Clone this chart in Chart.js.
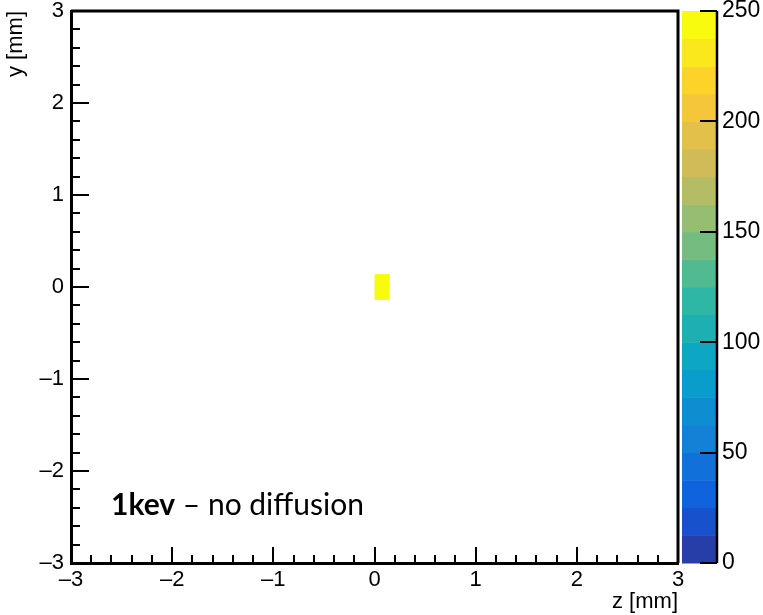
<!DOCTYPE html>
<html>
<head>
<meta charset="utf-8">
<script src="https://cdn.jsdelivr.net/npm/chart.js@4.4.1/dist/chart.umd.min.js"></script>
<style>
  html, body { margin: 0; padding: 0; background: #ffffff; }
  #wrap { width: 763px; height: 615px; position: relative; }
</style>
</head>
<body>
<div id="wrap"><canvas id="hist"></canvas></div>
<script>
// histogram bins with content (z = horizontal, y = vertical)
const binZLow = [0.0];
const binZHigh = [0.15];
const binYLow = [-0.14];
const binYHigh = [0.14];
const binCounts = [246];

// axis ranges and colour scale
const zRange = [-3, 3];
const yRange = [-3, 3];
const countRange = [0, 250];
const nContours = 20;

// kBird palette stops (ROOT)
const birdStops = [0, 0.125, 0.25, 0.375, 0.5, 0.625, 0.75, 0.875, 1];
const birdR = [0.2082, 0.0592, 0.0780, 0.0232, 0.1802, 0.5301, 0.8186, 0.9956, 0.9764];
const birdG = [0.1664, 0.3599, 0.5041, 0.6419, 0.7178, 0.7492, 0.7328, 0.7862, 0.9832];
const birdB = [0.5293, 0.8684, 0.8385, 0.7914, 0.6425, 0.4662, 0.3499, 0.1968, 0.0539];

function birdColor(t) {
  let k = 0;
  while (k < birdStops.length - 2 && t > birdStops[k + 1]) k++;
  const f = (t - birdStops[k]) / (birdStops[k + 1] - birdStops[k]);
  const c = (arr) => Math.round(255 * (arr[k] + (arr[k + 1] - arr[k]) * f));
  return `rgb(${c(birdR)},${c(birdG)},${c(birdB)})`;
}

// colour for contour band i, same way ROOT picks it out of 255 colours
function bandColor(i) {
  const idx = Math.floor((i + 0.99) * 255 / nContours);
  return birdColor(Math.min(idx, 254) / 254);
}

function valueBand(v) {
  const step = (countRange[1] - countRange[0]) / nContours;
  return Math.max(0, Math.min(nContours - 1, Math.floor((v - countRange[0]) / step)));
}

const dash = (v) => (v < 0 ? '\u2013' + Math.abs(v) : '' + v);
const axisFont = { family: 'Liberation Sans, Arial, sans-serif', size: 22 };
const paletteFont = { family: 'Liberation Sans, Arial, sans-serif', size: 23 };

//draws the filled bins, the inner tick marks, the frame and the palette
const rootStyle = {
  id: 'rootStyle',
  afterDatasetsDraw(chart) {
    const ctx = chart.ctx;
    const x = chart.scales.x, y = chart.scales.y;
    ctx.save();
    for (let i = 0; i < binCounts.length; i++) {
      const x0 = x.getPixelForValue(binZLow[i]);
      const x1 = x.getPixelForValue(binZHigh[i]);
      const y0 = y.getPixelForValue(binYHigh[i]);
      const y1 = y.getPixelForValue(binYLow[i]);
      ctx.fillStyle = bandColor(valueBand(binCounts[i]));
      ctx.fillRect(x0, y0, x1 - x0, y1 - y0);
    }
    ctx.restore();
  },
  afterDraw(chart) {
    const ctx = chart.ctx;
    const x = chart.scales.x, y = chart.scales.y, c = chart.scales.c;
    const area = chart.chartArea;
    ctx.save();
    ctx.strokeStyle = '#000';
    ctx.lineWidth = 2;
    ctx.beginPath();
    x.ticks.forEach((t) => {
      const px = Math.round(x.getPixelForValue(t.value));
      const major = Math.abs(t.value - Math.round(t.value)) < 1e-6;
      const len = major ? 16 : 8;
      ctx.moveTo(px, area.bottom);
      ctx.lineTo(px, area.bottom - len);
    });
    y.ticks.forEach((t) => {
      const py = Math.round(y.getPixelForValue(t.value));
      const major = Math.abs(t.value - Math.round(t.value)) < 1e-6;
      const len = major ? 18 : 9;
      ctx.moveTo(area.left, py);
      ctx.lineTo(area.left + len, py);
    });
    ctx.stroke();

    // frame top and right
    ctx.lineWidth = 3;
    ctx.beginPath();
    ctx.moveTo(area.left, area.top);
    ctx.lineTo(area.right, area.top);
    ctx.lineTo(area.right, area.bottom);
    ctx.stroke();

    // palette
    const pL = area.right + 4, pR = area.right + 39;
    const step = (countRange[1] - countRange[0]) / nContours;
    for (let i = 0; i < nContours; i++) {
      const yTop = c.getPixelForValue(countRange[0] + (i + 1) * step);
      const yBot = c.getPixelForValue(countRange[0] + i * step);
      ctx.fillStyle = bandColor(i);
      ctx.fillRect(pL, yTop, pR - pL, yBot - yTop + 0.5);
    }
    ctx.lineWidth = 2.5;
    ctx.beginPath();
    ctx.moveTo(pR, c.getPixelForValue(countRange[1]));
    ctx.lineTo(pR, c.getPixelForValue(countRange[0]));
    ctx.stroke();
    ctx.lineWidth = 2;
    ctx.beginPath();
    c.ticks.forEach((t) => {
      const py = Math.round(c.getPixelForValue(t.value));
      ctx.moveTo(pR, py);
      ctx.lineTo(pR - 17, py);
    });
    ctx.stroke();

    // label
    ctx.fillStyle = '#000';
    ctx.textBaseline = 'alphabetic';
    ctx.textAlign = 'left';
    ctx.font = 'bold 30px Lato, sans-serif';
    const lx = 111, ly = 515;
    ctx.fillText('1kev', lx, ly);
    const w = ctx.measureText('1kev').width;
    ctx.font = '30px Lato, sans-serif';
    ctx.fillText(' \u2013 no diffusion', lx + w, ly);
    ctx.restore();
  }
};

const noPad = (scale) => {
  scale.paddingTop = 0; scale.paddingBottom = 0;
  scale.paddingLeft = 0; scale.paddingRight = 0;
};

new Chart(document.getElementById('hist'), {
  type: 'scatter',
  plugins: [rootStyle],
  data: {
    datasets: [{
      data: binCounts.map((v, i) => ({ x: (binZLow[i] + binZHigh[i]) / 2, y: (binYLow[i] + binYHigh[i]) / 2 })),
      pointRadius: 0,
      yAxisID: 'y'
    }]
  },
  options: {
    responsive: true,
    maintainAspectRatio: false,
    animation: false,
    layout: { padding: { top: 11, left: 0, right: 0, bottom: 0 } },
    plugins: { legend: { display: false }, tooltip: { enabled: false } },
    scales: {
      x: {
        type: 'linear', min: zRange[0], max: zRange[1],
        grid: { display: false, drawTicks: false },
        border: { display: true, color: '#000', width: 3 },
        ticks: {
          stepSize: 0.2, autoSkip: false, maxRotation: 0, color: '#000', font: axisFont, padding: 4,
          callback: (v) => (Math.abs(v - Math.round(v)) < 1e-6 ? dash(Math.round(v)) : '')
        },
        title: { display: true, text: 'z [mm]', align: 'end', color: '#000', font: axisFont, padding: { top: 0, bottom: 0 } },
        afterFit: (s) => { s.height = 52; noPad(s); }
      },
      y: {
        type: 'linear', min: yRange[0], max: yRange[1],
        grid: { display: false, drawTicks: false },
        border: { display: true, color: '#000', width: 3 },
        ticks: {
          stepSize: 0.2, autoSkip: false, color: '#000', font: axisFont, padding: 7,
          callback: (v) => (Math.abs(v - Math.round(v)) < 1e-6 ? dash(Math.round(v)) : '')
        },
        title: { display: true, text: 'y [mm]', align: 'end', color: '#000', font: axisFont, padding: { top: 3, bottom: 0 } },
        afterFit: (s) => { s.width = 71; noPad(s); }
      },
      c: {
        type: 'linear', position: 'right', min: countRange[0], max: countRange[1],
        grid: { display: false, drawTicks: false },
        border: { display: false },
        ticks: { stepSize: 50, color: '#000', font: paletteFont, padding: 44 },
        afterFit: (s) => { s.width = 85; noPad(s); }
      }
    }
  }
});
</script>
</body>
</html>
